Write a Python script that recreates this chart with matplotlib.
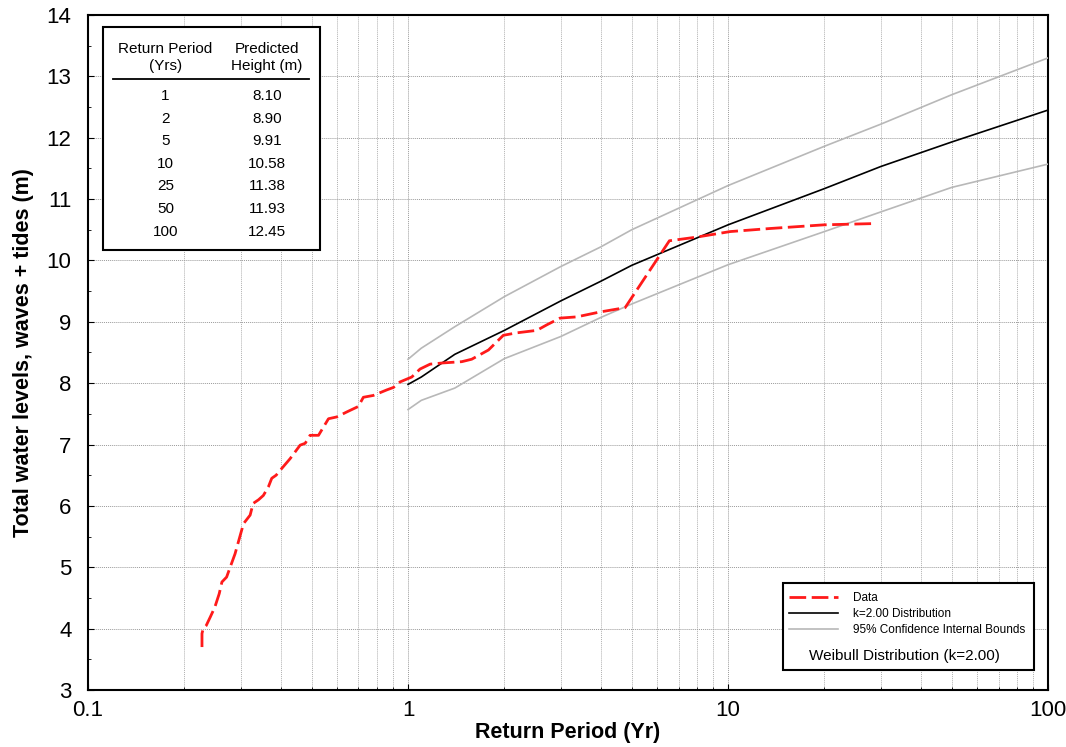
import matplotlib
matplotlib.use("Agg")
import matplotlib.pyplot as plt
from matplotlib.patches import Rectangle
from matplotlib.lines import Line2D
from matplotlib.ticker import LogLocator, NullFormatter, MultipleLocator

plt.rcParams["font.family"] = ["Liberation Sans Narrow", "Liberation Sans", "DejaVu Sans"]

# --------------------------------------------------
# Data
# --------------------------------------------------

data_period = [0.227, 0.227, 0.229, 0.234, 0.241, 0.249, 0.257, 0.262, 0.271,
               0.278, 0.288, 0.300, 0.306, 0.321, 0.328, 0.341, 0.353, 0.366,
               0.375, 0.387, 0.403, 0.428, 0.460, 0.477, 0.494, 0.525, 0.564,
               0.599, 0.643, 0.699, 0.725, 0.779, 0.858, 0.900, 0.944, 1.027,
               1.090, 1.172, 1.289, 1.472, 1.581, 1.783, 1.985, 2.187, 2.525,
               2.713, 2.985, 3.366, 3.980, 4.767, 6.555, 7.980, 10.15, 13.53,
               19.95, 28.45]
data_height = [3.70, 3.92, 4.00, 4.05, 4.19, 4.35, 4.57, 4.76, 4.84,
               5.00, 5.22, 5.55, 5.71, 5.85, 6.04, 6.10, 6.17, 6.31,
               6.45, 6.50, 6.61, 6.77, 6.99, 7.02, 7.15, 7.15, 7.42,
               7.45, 7.53, 7.62, 7.77, 7.80, 7.89, 7.93, 8.02, 8.10,
               8.23, 8.31, 8.33, 8.35, 8.39, 8.54, 8.78, 8.82, 8.86,
               8.95, 9.06, 9.08, 9.16, 9.23, 10.32, 10.38, 10.47, 10.52,
               10.58, 10.60]

fit_period = [1.0, 1.1, 1.4, 2, 3, 4, 5, 10, 20, 30, 50, 100]
fit_height = [7.98, 8.10, 8.47, 8.86, 9.34, 9.66, 9.92, 10.58, 11.17, 11.53, 11.93, 12.45]
upper_height = [8.39, 8.57, 8.92, 9.41, 9.90, 10.22, 10.50, 11.22, 11.86, 12.22, 12.70, 13.30]
lower_height = [7.57, 7.72, 7.92, 8.40, 8.76, 9.07, 9.29, 9.93, 10.47, 10.79, 11.19, 11.57]

table_period = ["1", "2", "5", "10", "25", "50", "100"]
table_height = ["8.10", "8.90", "9.91", "10.58", "11.38", "11.93", "12.45"]

x_ticks = [0.1, 1, 10, 100]
x_tick_labels = ["0.1", "1", "10", "100"]

# --------------------------------------------------
# Figure
# --------------------------------------------------

fig = plt.figure(figsize=(10.66, 7.47), dpi=100)
ax = fig.add_axes([0.0826, 0.0763, 0.9006, 0.9037])

ax.plot(fit_period, upper_height, color="#b8b8b8", lw=1.2, zorder=3)
ax.plot(fit_period, lower_height, color="#b8b8b8", lw=1.2, zorder=3)
ax.plot(fit_period, fit_height, color="black", lw=1.2, zorder=4)
ax.plot(data_period, data_height, color="#ff1a1a", lw=2.0, dashes=(6, 2), zorder=5)

ax.set_xscale("log")
ax.set_xlim(0.1, 100)
ax.set_ylim(3, 14)
ax.set_xticks(x_ticks)
ax.set_xticklabels(x_tick_labels)
ax.xaxis.set_minor_locator(LogLocator(base=10, subs=range(2, 10)))
ax.xaxis.set_minor_formatter(NullFormatter())
ax.yaxis.set_major_locator(MultipleLocator(1))
ax.yaxis.set_minor_locator(MultipleLocator(0.5))

ax.grid(which="major", color="#9a9a9a", lw=0.7, linestyle=(0, (1, 1)))
ax.grid(which="minor", axis="x", color="#b0b0b0", lw=0.7, linestyle=(0, (1, 1)))

ax.tick_params(which="both", direction="in", labelsize=16)
ax.tick_params(which="major", length=4)
ax.tick_params(which="minor", length=2)
ax.tick_params(axis="x", pad=7)
ax.tick_params(axis="y", pad=12)
for s in ax.spines.values():
    s.set_linewidth(1.5)

ax.set_xlabel("Return Period (Yr)", fontsize=15.5, fontweight="bold", labelpad=1)
ax.set_ylabel("Total water levels, waves + tides (m)", fontsize=15.5, fontweight="bold", labelpad=9)

# --------------------------------------------------
# Table inset
# --------------------------------------------------

ax.add_patch(Rectangle((0.0153, 0.652), 0.2264, 0.3308, transform=ax.transAxes,
                       facecolor="white", edgecolor="black", lw=1.5, zorder=6))
ax.text(0.0806, 0.937, "Return Period\n(Yrs)", transform=ax.transAxes, ha="center",
        va="center", fontsize=11, linespacing=1.3, zorder=7)
ax.text(0.1865, 0.937, "Predicted\nHeight (m)", transform=ax.transAxes, ha="center",
        va="center", fontsize=11, linespacing=1.3, zorder=7)
ax.plot([0.0260, 0.2302], [0.9052, 0.9052], transform=ax.transAxes, color="black",
        lw=1.3, zorder=7)
for i in range(len(table_period)):
    yy = 0.8800 - i * 0.0335
    ax.text(0.0806, yy, table_period[i], transform=ax.transAxes, ha="center",
            va="center", fontsize=11, zorder=7)
    ax.text(0.1865, yy, table_height[i], transform=ax.transAxes, ha="center",
            va="center", fontsize=11, zorder=7)

# --------------------------------------------------
# Legend box
# --------------------------------------------------

ax.add_patch(Rectangle((0.724, 0.0296), 0.261, 0.1289, transform=ax.transAxes,
                       facecolor="white", edgecolor="black", lw=1.5, zorder=6))
handles = [
    Line2D([], [], color="#ff1a1a", lw=2.0, dashes=(6, 2)),
    Line2D([], [], color="black", lw=1.2),
    Line2D([], [], color="#b8b8b8", lw=1.2),
]
labels = ["Data", "k=2.00 Distribution", "95% Confidence Internal Bounds"]
leg = ax.legend(handles, labels, loc="upper left", bbox_to_anchor=(0.725, 0.152),
                frameon=False, fontsize=8.5, handlelength=4.2, handletextpad=1.2,
                labelspacing=0.35, borderaxespad=0.0)
leg.set_zorder(8)
ax.text(0.8505, 0.0504, "Weibull Distribution (k=2.00)", transform=ax.transAxes,
        ha="center", va="center", fontsize=11, zorder=8)

fig.savefig("out.png", dpi=100)
